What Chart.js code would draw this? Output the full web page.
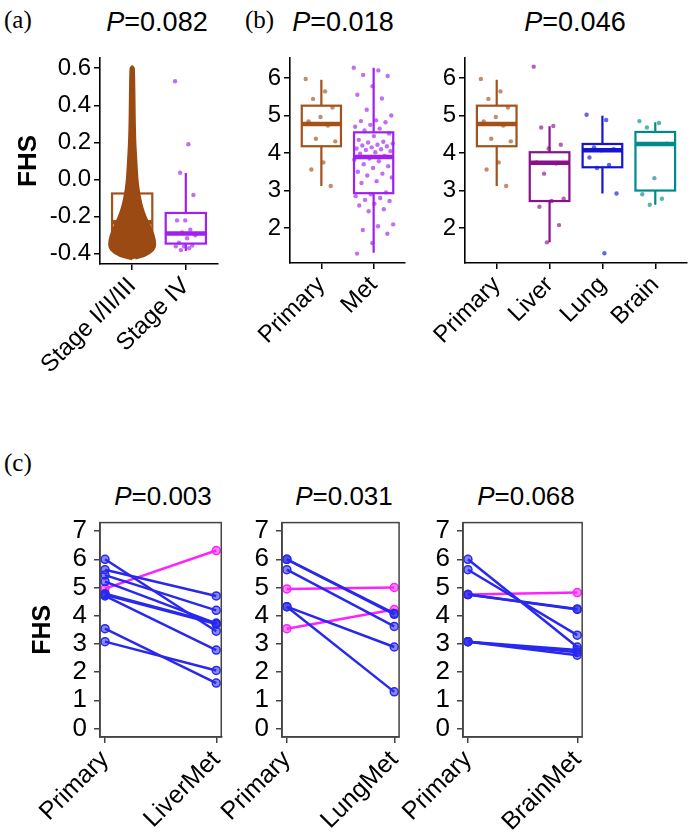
<!DOCTYPE html>
<html>
<head>
<meta charset="utf-8">
<script src="https://cdn.jsdelivr.net/npm/chart.js@4.4.0/dist/chart.umd.min.js"></script>
<style>
body { margin: 0; background: #fff; }
#fig { position: relative; width: 692px; height: 833px; overflow: hidden; font-family: 'Liberation Sans', Arial, sans-serif; }
canvas { position: absolute; }
.lab { position: absolute; font-family: 'Liberation Serif', 'Times New Roman', serif; font-size: 25px; line-height: 25px; }
.pv { position: absolute; font-size: 27px; line-height: 27px; transform: translateX(-50%); white-space: nowrap; }
.pv.small { font-size: 26px; line-height: 26px; }
</style>
</head>
<body>
<div id="fig">
  <div class="lab" style="left:4px;top:7px">(a)</div>
  <div class="lab" style="left:245px;top:7px">(b)</div>
  <div class="lab" style="left:4px;top:450px">(c)</div>
  <div class="pv" style="left:157px;top:9px"><i>P</i>=0.082</div>
  <div class="pv" style="left:343px;top:9px"><i>P</i>=0.018</div>
  <div class="pv" style="left:575px;top:9px"><i>P</i>=0.046</div>
  <div class="pv small" style="left:163px;top:483px"><i>P</i>=0.003</div>
  <div class="pv small" style="left:344px;top:483px"><i>P</i>=0.031</div>
  <div class="pv small" style="left:526px;top:483px"><i>P</i>=0.068</div>

  <canvas id="chartA" width="230" height="360" style="left:0;top:40px"></canvas>
  <canvas id="chartB1" width="227" height="360" style="left:190px;top:40px"></canvas>
  <canvas id="chartB2" width="326" height="360" style="left:365px;top:40px"></canvas>
  <canvas id="chartC1" width="240" height="333" style="left:0;top:500px"></canvas>
  <canvas id="chartC2" width="236" height="333" style="left:182px;top:500px"></canvas>
  <canvas id="chartC3" width="238" height="333" style="left:363px;top:500px"></canvas>
</div>
<script>
// ---- panel (a): stage ----
const stageCats = ['Stage I/II/III', 'Stage IV'];
const stageTicks = [-0.4, -0.2, 0.0, 0.2, 0.4, 0.6];
const stageQ1 = [-0.35, -0.345];
const stageMedian = [-0.23, -0.29];
const stageQ3 = [-0.075, -0.18];
const stageLow = [-0.41, -0.385];
const stageHigh = [0.33, 0.035];
// Stage I/II/III is a dense swarm: its outline (FHS level, half width in category units)
const stageDenseFHS = [-0.425, -0.41, -0.38, -0.35, -0.3, -0.25, -0.2, -0.15, -0.1, -0.05, 0.0, 0.1, 0.2, 0.3, 0.4, 0.5, 0.6];
const stageDenseWidth = [0.06, 0.24, 0.39, 0.43, 0.4, 0.33, 0.25, 0.19, 0.15, 0.12, 0.1, 0.078, 0.06, 0.05, 0.045, 0.04, 0.03];
const stageIVFHS = [0.53, 0.19, 0.037, -0.083, -0.22, -0.22, -0.27, -0.285, -0.3, -0.316, -0.34, -0.355, -0.36, -0.36, -0.37, -0.38];

// ---- panel (b) ----
const metCats = ['Primary', 'Met'];
const siteCats = ['Primary', 'Liver', 'Lung', 'Brain'];
const fhsTicks = [2, 3, 4, 5, 6];
const primaryFHS = [5.97, 5.64, 5.44, 5.21, 4.96, 4.84, 4.73, 4.38, 4.31, 3.75, 3.56, 3.12];
const metFHS = [6.27, 6.2, 6.08, 6.05, 5.78, 5.55, 5.45, 5.15, 5.0, 4.87, 4.85, 4.82, 4.75, 4.7, 4.65, 4.6, 4.52, 4.45, 4.35, 4.3,
  4.28, 4.25, 4.22, 4.2, 4.18, 4.15, 4.12, 4.1, 4.08, 4.05, 4.02, 3.98, 3.92, 3.85, 3.82, 3.78, 3.7, 3.65, 3.6, 3.5,
  3.45, 3.4, 3.35, 3.25, 3.2, 2.95, 2.9, 2.85, 2.8, 2.75, 2.72, 2.65, 2.6, 2.5, 2.45, 2.1, 2.05, 1.95, 1.85, 1.6, 1.32];
const liverFHS = [6.3, 4.72, 4.68, 4.22, 4.12, 3.75, 3.72, 3.45, 2.78, 2.72, 2.57, 2.08, 1.62];
const lungFHS = [5.02, 4.88, 4.15, 4.1, 4.07, 3.88, 3.68, 3.6, 2.92, 1.33];
const brainFHS = [4.85, 4.8, 4.68, 4.25, 3.33, 2.9, 2.78, 2.62];
const metQ1 = [4.18, 2.93], metMedian = [4.77, 3.89], metQ3 = [5.26, 4.55], metLow = [3.12, 1.34], metHigh = [5.95, 6.27];
const siteQ1 = [4.18, 2.72, 3.62, 3.0], siteMedian = [4.77, 3.74, 4.07, 4.24], siteQ3 = [5.26, 4.02, 4.24, 4.56];
const siteLow = [3.12, 1.62, 2.92, 2.62], siteHigh = [5.95, 4.71, 4.99, 4.82];

// ---- panel (c): paired samples ----
const pairTicks = [0, 1, 2, 3, 4, 5, 6, 7];
const liverPrimary = [6.0, 5.63, 5.44, 5.21, 4.78, 4.74, 4.70, 3.54, 3.08, 4.96];
const liverMet = [3.45, 4.70, 4.19, 3.73, 3.73, 3.70, 2.78, 1.61, 2.06, 6.31];
const lungPrimary = [6.0, 6.0, 5.63, 4.32, 4.32, 4.95, 3.54];
const lungMet = [4.08, 4.05, 3.62, 2.89, 1.30, 5.0, 4.22];
const brainPrimary = [6.0, 5.63, 4.75, 4.75, 3.08, 3.08, 3.08, 4.75];
const brainMet = [2.89, 3.31, 4.24, 4.22, 2.78, 2.7, 2.6, 4.82];

const brown = '#A2521A', purple = '#A020F0', liverCol = '#8B108B', lungCol = '#1414D2', brainCol = '#008B8B';
const downCol = '#2828EE', upCol = '#FF22FF';

Chart.defaults.font.family = "'Liberation Sans', Arial, sans-serif";
Chart.defaults.color = '#000';
Chart.defaults.animation = false;
Chart.defaults.plugins.legend.display = false;
Chart.defaults.plugins.tooltip.enabled = false;

function fixedTicks(vals) {
  return s => { s.ticks = vals.map(v => ({ value: v })); };
}

function jitter(vals, cat, spread) {
  return vals.map((v, i) => ({ x: cat + (((i * 0.618034) % 1) - 0.5) * 2 * spread, y: v }));
}

function alpha(hex, a) {
  const n = parseInt(hex.slice(1), 16);
  return 'rgba(' + (n >> 16) + ',' + ((n >> 8) & 255) + ',' + (n & 255) + ',' + a + ')';
}

function yAxis(min, max, ticks, fmt, size, title, frame) {
  return {
    type: 'linear', min: min, max: max,
    afterBuildTicks: fixedTicks(ticks),
    afterFit: s => { s.width = 100; },
    ticks: { font: { size: size }, padding: frame ? 7 : 3, autoSkip: false, callback: fmt },
    grid: { drawOnChartArea: false, tickLength: 6, color: frame ? '#444' : '#000', lineWidth: 1.5 },
    border: { color: frame ? '#444' : '#000', width: 1.6 },
    title: title
  };
}

function xAxis(min, max, cats, size, height, frame) {
  return {
    type: 'linear', min: min, max: max,
    afterBuildTicks: fixedTicks(cats.map((c, i) => i + 1)),
    afterFit: s => { s.height = height; },
    ticks: { font: { size: size }, minRotation: 45, maxRotation: 45, autoSkip: false, padding: 2,
      callback: v => cats[v - 1] },
    grid: { drawOnChartArea: false, tickLength: 6, color: frame ? '#444' : '#000', lineWidth: 1.5 },
    border: { color: frame ? '#444' : '#000', width: 1.6 }
  };
}

function boxPlugin(q1, med, q3, lo, hi, colors) {
  return {
    id: 'boxes',
    beforeDatasetsDraw(chart) {
      const { ctx, scales: { x, y } } = chart;
      ctx.save();
      q1.forEach((v, i) => {
        const c = i + 1;
        const xl = x.getPixelForValue(c - 0.375), xr = x.getPixelForValue(c + 0.375), xm = x.getPixelForValue(c);
        const yt = y.getPixelForValue(q3[i]), yb = y.getPixelForValue(v), ym = y.getPixelForValue(med[i]);
        ctx.strokeStyle = colors[i];
        ctx.lineWidth = 2.2;
        ctx.beginPath();
        ctx.moveTo(xm, y.getPixelForValue(hi[i])); ctx.lineTo(xm, yt);
        ctx.moveTo(xm, yb); ctx.lineTo(xm, y.getPixelForValue(lo[i]));
        ctx.stroke();
        ctx.fillStyle = '#fff';
        ctx.fillRect(xl, yt, xr - xl, yb - yt);
        ctx.strokeRect(xl, yt, xr - xl, yb - yt);
        ctx.lineWidth = 4.5;
        ctx.beginPath(); ctx.moveTo(xl, ym); ctx.lineTo(xr, ym); ctx.stroke();
      });
      ctx.restore();
    }
  };
}

const framePlugin = {
  id: 'frame',
  afterDraw(chart) {
    const { ctx, chartArea: a } = chart;
    ctx.save();
    ctx.strokeStyle = '#444';
    ctx.lineWidth = 1.5;
    ctx.strokeRect(a.left, a.top, a.right - a.left, a.bottom - a.top);
    ctx.restore();
  }
};

function dots(vals, cat, spread, color) {
  return { data: jitter(vals, cat, spread), pointRadius: 2.2, pointBackgroundColor: alpha(color, 0.65), pointBorderWidth: 0 };
}

// ---- (a) ----
const densePoly = stageDenseFHS.map((v, i) => ({ x: 1 + stageDenseWidth[i], y: v }))
  .concat([{ x: 1, y: 0.61 }])
  .concat(stageDenseFHS.map((v, i) => ({ x: 1 - stageDenseWidth[i], y: v })).reverse())
  .concat([{ x: 1, y: -0.43 }]);

new Chart(document.getElementById('chartA'), {
  type: 'scatter',
  data: {
    datasets: [
      { data: densePoly, showLine: true, fill: 'shape', tension: 0.25, borderColor: '#9A4A12', borderWidth: 2,
        backgroundColor: '#9A4A12', pointRadius: 0 },
      dots(stageIVFHS, 2, 0.2, purple)
    ]
  },
  options: {
    responsive: false,
    layout: { padding: { top: 18, right: 12, left: 0, bottom: 0 } },
    scales: {
      x: xAxis(0.4, 2.6, stageCats, 24, 136, false),
      y: yAxis(-0.455, 0.655, stageTicks, v => v.toFixed(1), 24,
        { display: true, text: 'FHS', font: { size: 26, weight: 'bold' }, color: '#000', padding: { top: 13, bottom: 0 } }, false)
    }
  },
  plugins: [boxPlugin(stageQ1, stageMedian, stageQ3, stageLow, stageHigh, [brown, purple])]
});

// ---- (b) left ----
new Chart(document.getElementById('chartB1'), {
  type: 'scatter',
  data: { datasets: [dots(primaryFHS, 1, 0.3, brown), dots(metFHS, 2, 0.38, purple)] },
  options: {
    responsive: false,
    layout: { padding: { top: 18, right: 12, left: 0, bottom: 0 } },
    scales: {
      x: xAxis(0.4, 2.6, metCats, 24, 137, false),
      y: yAxis(1.07, 6.53, fhsTicks, v => String(v), 24, { display: false }, false)
    }
  },
  plugins: [boxPlugin(metQ1, metMedian, metQ3, metLow, metHigh, [brown, purple])]
});

// ---- (b) right ----
new Chart(document.getElementById('chartB2'), {
  type: 'scatter',
  data: {
    datasets: [dots(primaryFHS, 1, 0.3, brown), dots(liverFHS, 2, 0.3, liverCol),
      dots(lungFHS, 3, 0.3, lungCol), dots(brainFHS, 4, 0.3, brainCol)]
  },
  options: {
    responsive: false,
    layout: { padding: { top: 18, right: 4, left: 0, bottom: 0 } },
    scales: {
      x: xAxis(0.4, 4.6, siteCats, 24, 137, false),
      y: yAxis(1.07, 6.53, fhsTicks, v => String(v), 24, { display: false }, false)
    }
  },
  plugins: [boxPlugin(siteQ1, siteMedian, siteQ3, siteLow, siteHigh, [brown, liverCol, lungCol, brainCol])]
});

// ---- (c) ----
function pairChart(id, primary, met, cats, title) {
  const datasets = primary.map((p, i) => {
    const col = met[i] > p ? upCol : downCol;
    return { data: [{ x: 1, y: p }, { x: 2, y: met[i] }], showLine: true, borderColor: col, borderWidth: 2.5,
      pointRadius: 4, pointBorderColor: col, pointBackgroundColor: alpha(col, 0.55), pointBorderWidth: 1.5 };
  });
  new Chart(document.getElementById(id), {
    type: 'scatter',
    data: { datasets: datasets },
    options: {
      responsive: false,
      layout: { padding: { top: 12, right: 13, left: 0, bottom: 0 } },
      scales: {
        x: xAxis(0.955, 2.045, cats, 25, 96, true),
        y: yAxis(-0.3, 7.3, pairTicks, v => String(v), 26, title, true)
      }
    },
    plugins: [framePlugin]
  });
}

pairChart('chartC1', liverPrimary, liverMet, ['Primary', 'LiverMet'],
  { display: true, text: 'FHS', font: { size: 25, weight: 'bold' }, color: '#000', padding: { top: 28, bottom: 0 } });
pairChart('chartC2', lungPrimary, lungMet, ['Primary', 'LungMet'], { display: false });
pairChart('chartC3', brainPrimary, brainMet, ['Primary', 'BrainMet'], { display: false });
</script>
</body>
</html>
